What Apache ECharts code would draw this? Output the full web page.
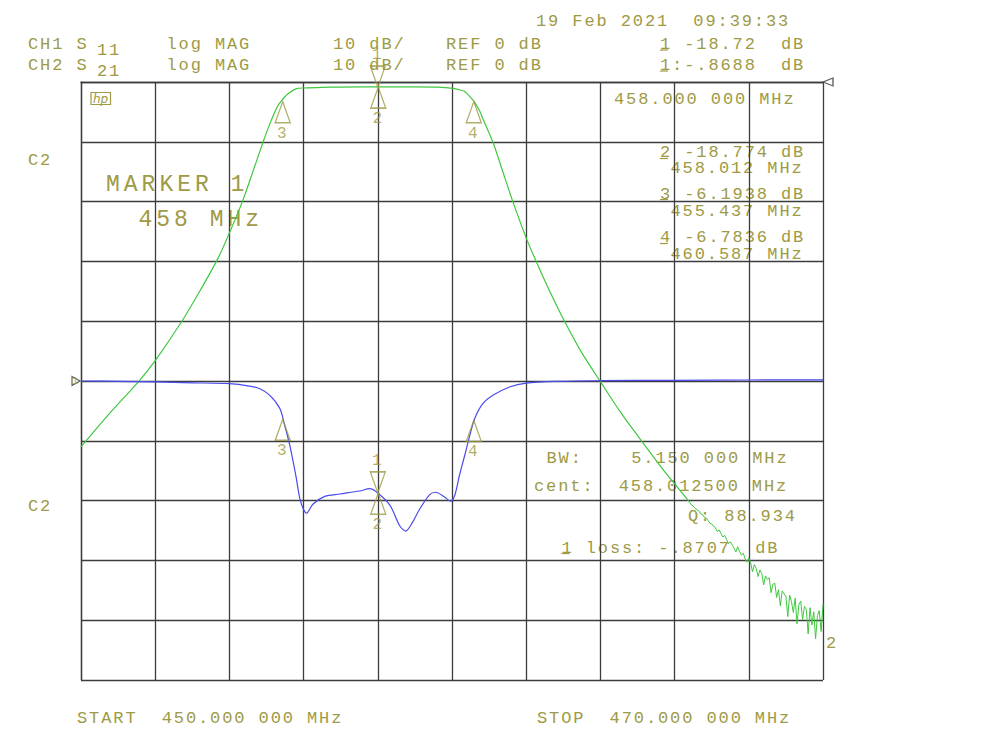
<!DOCTYPE html>
<html><head><meta charset="utf-8">
<script src="https://cdn.jsdelivr.net/npm/echarts@6/dist/echarts.min.js"></script>
<style>
html,body{margin:0;padding:0;background:#fff;}
#chart{width:1000px;height:750px;}
#chart text{letter-spacing:1.9px;}
#chart text[style*="23px"]{letter-spacing:4px;}
#chart text[style*="italic"]{letter-spacing:0px;}
</style></head><body><div id="chart"></div>
<script>
// ---- data ----
const freqStart = 450, freqStop = 470;          // MHz
const s21Freq = [450.00,450.15,450.8,451.54,452.01,452.71,453.2,453.65,453.92,454.35,454.65,454.91,455.09,455.27,455.36,455.57,455.81,456.0,456.5,457.0,458.0,459.0,459.6,460.03,460.2,460.34,460.52,460.61,460.75,460.85,461.1,461.37,461.64,462.02,462.27,462.65,463.04,463.5,464.01,464.55,465.13,465.75,466.41];
const s21Db   = [-61.0,-59.9,-55.2,-50.2,-46.5,-40.1,-35.0,-30.0,-26.4,-20.0,-14.7,-10.0,-7.0,-4.4,-3.5,-2.0,-1.1,-1.0,-0.9,-0.85,-0.8,-0.8,-0.85,-1.06,-1.3,-1.6,-2.7,-3.4,-4.9,-6.4,-10.0,-15.0,-20.0,-26.4,-30.0,-35.2,-40.1,-45.3,-50.2,-55.3,-60.2,-65.3,-70.3];
const s21TailFreq = [466.41,466.45,466.50,466.55,466.60,466.65,466.70,466.75,466.80,466.85,466.90,466.95,467.00,467.05,467.10,467.15,467.20,467.25,467.30,467.35,467.40,467.45,467.50,467.55,467.60,467.65,467.70,467.75,467.80,467.85,467.90,467.95,468.00,468.05,468.10,468.15,468.20,468.25,468.30,468.35,468.40,468.45,468.50,468.55,468.60,468.65,468.70,468.75,468.80,468.85,468.90,468.95,469.00,469.05,469.10,469.15,469.20,469.25,469.30,469.35,469.40,469.45,469.50,469.55,469.60,469.65,469.70,469.75,469.80,469.85,469.90,469.95,470.00];
const s21TailDb = [-70.3,-70.7,-70.9,-71.3,-71.5,-71.7,-72.2,-72.3,-72.8,-72.9,-73.3,-73.8,-73.9,-74.3,-74.5,-75.2,-74.9,-75.5,-76.1,-75.8,-76.5,-77.2,-76.9,-77.4,-77.9,-78.6,-77.7,-78.5,-79.1,-78.8,-79.7,-80.3,-79.6,-80.4,-81.9,-80.7,-81.3,-82.7,-81.6,-82.2,-84.1,-82.6,-83.2,-82.9,-85.4,-84.0,-83.8,-86.2,-84.9,-87.6,-85.1,-85.6,-86.0,-89.4,-85.8,-86.9,-88.7,-86.3,-90.6,-87.4,-86.8,-89.9,-87.7,-88.2,-92.3,-87.9,-90.8,-88.6,-93.1,-89.2,-88.4,-91.9,-87.3];
const s11Freq = [450.0,451.0,452.0,453.0,454.0,454.5,454.82,455.09,455.36,455.49,455.63,455.79,455.90,456.0,456.08,456.25,456.57,456.97,457.51,457.78,458.0,458.33,458.59,458.75,458.94,459.13,459.40,459.56,459.80,459.96,460.07,460.2,460.34,460.48,460.61,460.83,461.1,461.55,462.0,462.9,464.0,466.0,468.0,470.0];
const s11Db   = [0.0,-0.05,-0.15,-0.3,-0.45,-0.8,-1.3,-2.4,-4.6,-7.4,-10.8,-15.8,-19.7,-21.5,-22.1,-20.6,-19.3,-18.9,-18.4,-18.0,-18.72,-20.8,-24.2,-25.1,-23.6,-21.4,-19.0,-18.6,-19.4,-20.1,-19.2,-15.8,-12.5,-9.1,-6.3,-3.8,-2.4,-1.0,-0.34,-0.05,0.05,0.12,0.17,0.2];
const markerNames = ['1','2','3','4'];
const markerFreq  = [458.0, 458.012, 455.437, 460.587];
const markerS21Db = [-0.87, -0.87, -3.3, -3.3];
const markerS11Db = [-18.72, -18.77, -6.4, -6.6];
const s21Range = [-100, 0];   // 10 dB/div, REF 0 dB at top
const s11Range = [-50, 50];   // 10 dB/div, REF 0 dB at centre

// ---- styles ----
const OLIVE = '#9e9a45';
const GRID = '#3c3c3c';
const GREEN = '#3ec83e';
const BLUE = '#4a4af0';
const FONT = '17px "Liberation Mono"';
const BIG = '23px "Liberation Mono"';
const UP = 'path://M7,0 L14,20 L0,20 Z';
const DOWN = 'path://M0,0 L14,0 L7,20 Z';

function pairs(xs, ys){ return xs.map((x,i)=>[x, ys[i]]); }
function markerData(vals){
  return markerNames.map((n,i)=>{
    const down = n === '1';
    return {
      name: n, value: [markerFreq[i], vals[i]],
      symbol: down ? DOWN : UP,
      symbolOffset: [0, down ? -10.5 : 10.5],
      label: { show: true, position: down ? 'top' : 'bottom', distance: 2 }
    };
  });
}
function txt(x, y, s, font){
  return { type:'text', x:x, y:y, silent:true,
    style:{ text:s, fill:OLIVE, font:font||FONT, textAlign:'left', textVerticalAlign:'middle', align:'left', verticalAlign:'middle' } };
}
function uline(x, y){
  return { type:'line', silent:true, shape:{x1:x, y1:y, x2:x+8, y2:y}, style:{stroke:OLIVE, lineWidth:1.2} };
}

const chart = echarts.init(document.getElementById('chart'), null, {renderer:'svg'});
const axisLineStyle = { color: GRID, width: 1.3 };
chart.setOption({
  animation: false,
  backgroundColor: '#fff',
  grid: { left: 81, top: 82, width: 742, height: 598, containLabel: false },
  xAxis: { type:'value', min: freqStart, max: freqStop, interval: 2,
    axisLine:{show:true, lineStyle:axisLineStyle}, axisTick:{show:false}, axisLabel:{show:false},
    splitLine:{show:true, lineStyle:axisLineStyle} },
  yAxis: [
    { type:'value', min: s21Range[0], max: s21Range[1], interval: 10,
      axisLine:{show:true, lineStyle:axisLineStyle}, axisTick:{show:false}, axisLabel:{show:false},
      splitLine:{show:true, lineStyle:axisLineStyle} },
    { type:'value', min: s11Range[0], max: s11Range[1], interval: 10, show:false, splitLine:{show:false} }
  ],
  series: [
    { type:'line', yAxisIndex:0, data: pairs(s21Freq, s21Db), smooth:0.25, showSymbol:false,
      lineStyle:{color:GREEN, width:1.2}, z:3 },
    { type:'line', yAxisIndex:0, data: pairs(s21TailFreq, s21TailDb), smooth:false, showSymbol:false,
      lineStyle:{color:GREEN, width:1}, z:3 },
    { type:'line', yAxisIndex:1, data: pairs(s11Freq, s11Db), smooth:0.3, showSymbol:false,
      lineStyle:{color:BLUE, width:1.2}, z:3 },
    { type:'scatter', yAxisIndex:0, data: markerData(markerS21Db), symbolSize:[15,21], clip:false,
      itemStyle:{color:'rgba(0,0,0,0)', borderColor:OLIVE, borderWidth:1.4},
      label:{formatter:'{b}', color:OLIVE, fontSize:16, fontFamily:'Liberation Mono'}, z:5 },
    { type:'scatter', yAxisIndex:1, data: markerData(markerS11Db), symbolSize:[15,21], clip:false,
      itemStyle:{color:'rgba(0,0,0,0)', borderColor:OLIVE, borderWidth:1.4},
      label:{formatter:'{b}', color:OLIVE, fontSize:16, fontFamily:'Liberation Mono'}, z:5 },
    // reference-level pointers
    { type:'scatter', yAxisIndex:1, clip:false, symbol:'path://M0,0 L10,5 L0,10 Z', symbolSize:[8,9], symbolOffset:[-5,0],
      itemStyle:{color:'#fff', borderColor:'#333', borderWidth:1.2},
      data:[{value:[freqStart, 0], name:'1'}],
      label:{show:true, position:'inside', formatter:'{b}', color:OLIVE, fontSize:11, fontFamily:'Liberation Mono'}, z:6 },
    { type:'scatter', yAxisIndex:0, clip:false, symbol:'path://M10,0 L0,5 L10,10 Z', symbolSize:[10,8], symbolOffset:[5,0],
      itemStyle:{color:'#fff', borderColor:'#333', borderWidth:1.2},
      data:[[freqStop, 0]], z:6 }
  ],
  graphic: { elements: [
    txt(536, 21.5, '19 Feb 2021  09:39:33'),
    txt(28, 44.5, 'CH1 S'), txt(97, 50, '11'), txt(166.5, 44.5, 'log MAG'), txt(333, 44.5, '10 dB/'), txt(446, 44.5, 'REF 0 dB'),
    txt(660, 44.5, '1 -18.72  dB'), uline(660, 50),
    txt(28, 65.5, 'CH2 S'), txt(97, 71, '21'), txt(166.5, 65.5, 'log MAG'), txt(333, 65.5, '10 dB/'), txt(446, 65.5, 'REF 0 dB'),
    txt(660, 65.5, '1:-.8688  dB'), uline(660, 71),
    txt(614, 99, '458.000 000 MHz'),
    txt(660, 152.5, '2 -18.774 dB'), uline(660, 158.5), txt(670.5, 168, '458.012 MHz'),
    txt(660, 194, '3 -6.1938 dB'), uline(660, 199.5), txt(670.5, 211, '455.437 MHz'),
    txt(660, 237.5, '4 -6.7836 dB'), uline(660, 243.5), txt(670.5, 254, '460.587 MHz'),
    txt(28, 160.5, 'C2'), txt(28, 506.5, 'C2'),
    txt(106, 185, 'MARKER 1', BIG), txt(138.5, 220, '458 MHz', BIG),
    txt(546.5, 458, 'BW:    5.150 000 MHz'),
    txt(534, 486.5, 'cent:  458.012500 MHz'),
    txt(688, 516.5, 'Q: 88.934'),
    txt(561.5, 548, '1 loss: -.8707  dB'), uline(561.5, 553.5),
    txt(826, 643, '2'),
    txt(77, 718.5, 'START  450.000 000 MHz'),
    txt(537, 718.5, 'STOP  470.000 000 MHz'),
    { type:'rect', silent:true, shape:{x:91, y:92.5, width:19.5, height:12}, style:{fill:'none', stroke:OLIVE, lineWidth:1.2} },
    { type:'text', x:93, y:98.5, silent:true, style:{text:'hp', fill:OLIVE, font:'italic 12px "DejaVu Sans"', textVerticalAlign:'middle', verticalAlign:'middle'} }
  ]}
});
</script></body></html>
